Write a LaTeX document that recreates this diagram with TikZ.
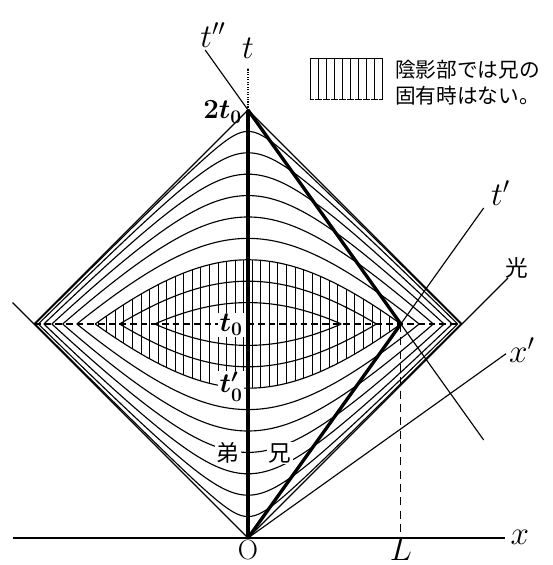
\documentclass[tikz,border=0pt]{standalone}
\usepackage{amsmath}
\usepackage{fontspec}
\newfontfamily\jp{Noto Sans CJK JP}
\tikzset{
  base/.style={line width=0.85pt},
  hatch/.style={line width=0.7pt},
  world/.style={line width=2.5pt, line join=miter},
  lbl/.style={font=\fontsize{26}{29}\selectfont, inner sep=1pt},
  jplbl/.style={font=\jp\fontsize{17}{20}\selectfont, inner sep=1pt},
  whitebg/.style={fill=white, inner sep=1pt},
}
\begin{document}
\begin{tikzpicture}[x=160.5pt,y=160.5pt,base]
\useasboundingbox (-1.1589,-0.1262) rectangle (1.4206,2.5140);
\pgfmathsetmacro{\Lv}{sqrt(0.51)}
\coordinate (O) at (0,0);
\coordinate (T2) at (0,2);
\coordinate (P) at (\Lv,1);
\coordinate (Lvx) at (-1,1);
\coordinate (Rvx) at (1,1);
\coordinate (Lx) at (\Lv,0);
\coordinate (xl) at (-1.1,0);
\coordinate (xr) at (1.2,0);
\coordinate (ttop) at (0,2.196);
\coordinate (lightR) at (1.215,1.215);
\coordinate (lightL) at (-1.1,1.1);
\coordinate (tppA) at ({-0.28*\Lv},2.28);
\coordinate (tppB) at ({1.542*\Lv},0.458);
\coordinate (tpE) at ({1.542*\Lv},1.542);
\coordinate (xpE) at (1.206,{1.206*\Lv});

% hatching of the shaded lens
\foreach \i in {0,...,35} {
  \pgfmathsetmacro{\xx}{-0.70+0.04*\i}
  \pgfmathsetmacro{\yy}{sqrt(\xx*\xx+0.49)}
  \draw[hatch] (\xx,\yy) -- (\xx,{2-\yy});
}

% proper-time curves
\foreach \k in {1,...,9} {
  \pgfmathsetmacro{\tu}{\k/10}
  \pgfmathsetmacro{\xm}{sqrt(1-\tu*\tu)}
  \draw plot[domain=-\xm:\xm, samples=121, smooth, variable=\s] (\s,{sqrt(\s*\s+\tu*\tu)});
  \draw plot[domain=-\xm:\xm, samples=121, smooth, variable=\s] (\s,{2-sqrt(\s*\s+\tu*\tu)});
}

% diamond and light lines
\draw (Lvx) -- (T2) -- (Rvx);
\draw (O) -- (lightR);
\draw (O) -- (lightL);
\draw[dash pattern=on 5pt off 3pt] (Lvx) -- (Rvx);
\draw[dash pattern=on 6pt off 4pt] (P) -- (Lx);

% axes
\draw (xl) -- (xr);
\draw[densely dotted] (T2) -- (ttop);
\draw (tppA) -- (tppB);
\draw (O) -- (tpE);
\draw (O) -- (xpE);

% world lines
\draw[world] (O) -- (T2);
\draw[world] (O) -- (P) -- (T2);

% labels
\node[lbl] (ltpp) at (-0.164,2.35) {$t''$};
\node[lbl] (lt) at (0,2.29) {$t$};
\node[anchor=east, font=\fontsize{22}{26}\selectfont, inner sep=1pt] (l2t) at (-0.02,1.99) {$\boldsymbol{2t_0}$};
\node[whitebg, font=\fontsize{22}{25}\selectfont] (lt0) at (-0.079,0.995) {$\boldsymbol{t_0}$};
\node[whitebg, font=\fontsize{22}{25}\selectfont] (lt0p) at (-0.079,0.706) {$\boldsymbol{t'_0}$};
\node[jplbl, whitebg] (ot) at (-0.093,0.397) {弟};
\node[jplbl, whitebg] (an) at (0.15,0.397) {兄};
\node[font=\fontsize{21}{24}\selectfont, inner sep=1pt] (lO) at (0,-0.058) {O};
\node[lbl] (lL) at (\Lv,-0.052) {$L$};
\node[lbl] (lx) at (1.27,0.005) {$x$};
\node[lbl] (lxp) at (1.28,0.88) {$x'$};
\node[lbl] (ltp) at (1.18,1.61) {$t'$};
\node[jplbl] (lhk) at (1.257,1.26) {光};

% legend
\coordinate (legA) at (0.294,2.047);
\coordinate (legB) at (0.626,2.243);
\draw[hatch] (legA |- legB) -- (legB);
\draw[hatch, dash pattern=on 2pt off 1pt] (legA) -- (legB |- legA);
\foreach \j in {0,...,9} {
  \pgfmathsetmacro{\lx}{0.294+0.332*\j/9}
  \draw[hatch] (\lx,2.047) -- (\lx,2.243);
}
\node[anchor=west, align=left, font=\jp\fontsize{15.5}{19.5}\selectfont, inner sep=0pt] (legtxt) at (0.685,2.126) {陰影部では兄の\\固有時はない。};
\end{tikzpicture}
\end{document}
